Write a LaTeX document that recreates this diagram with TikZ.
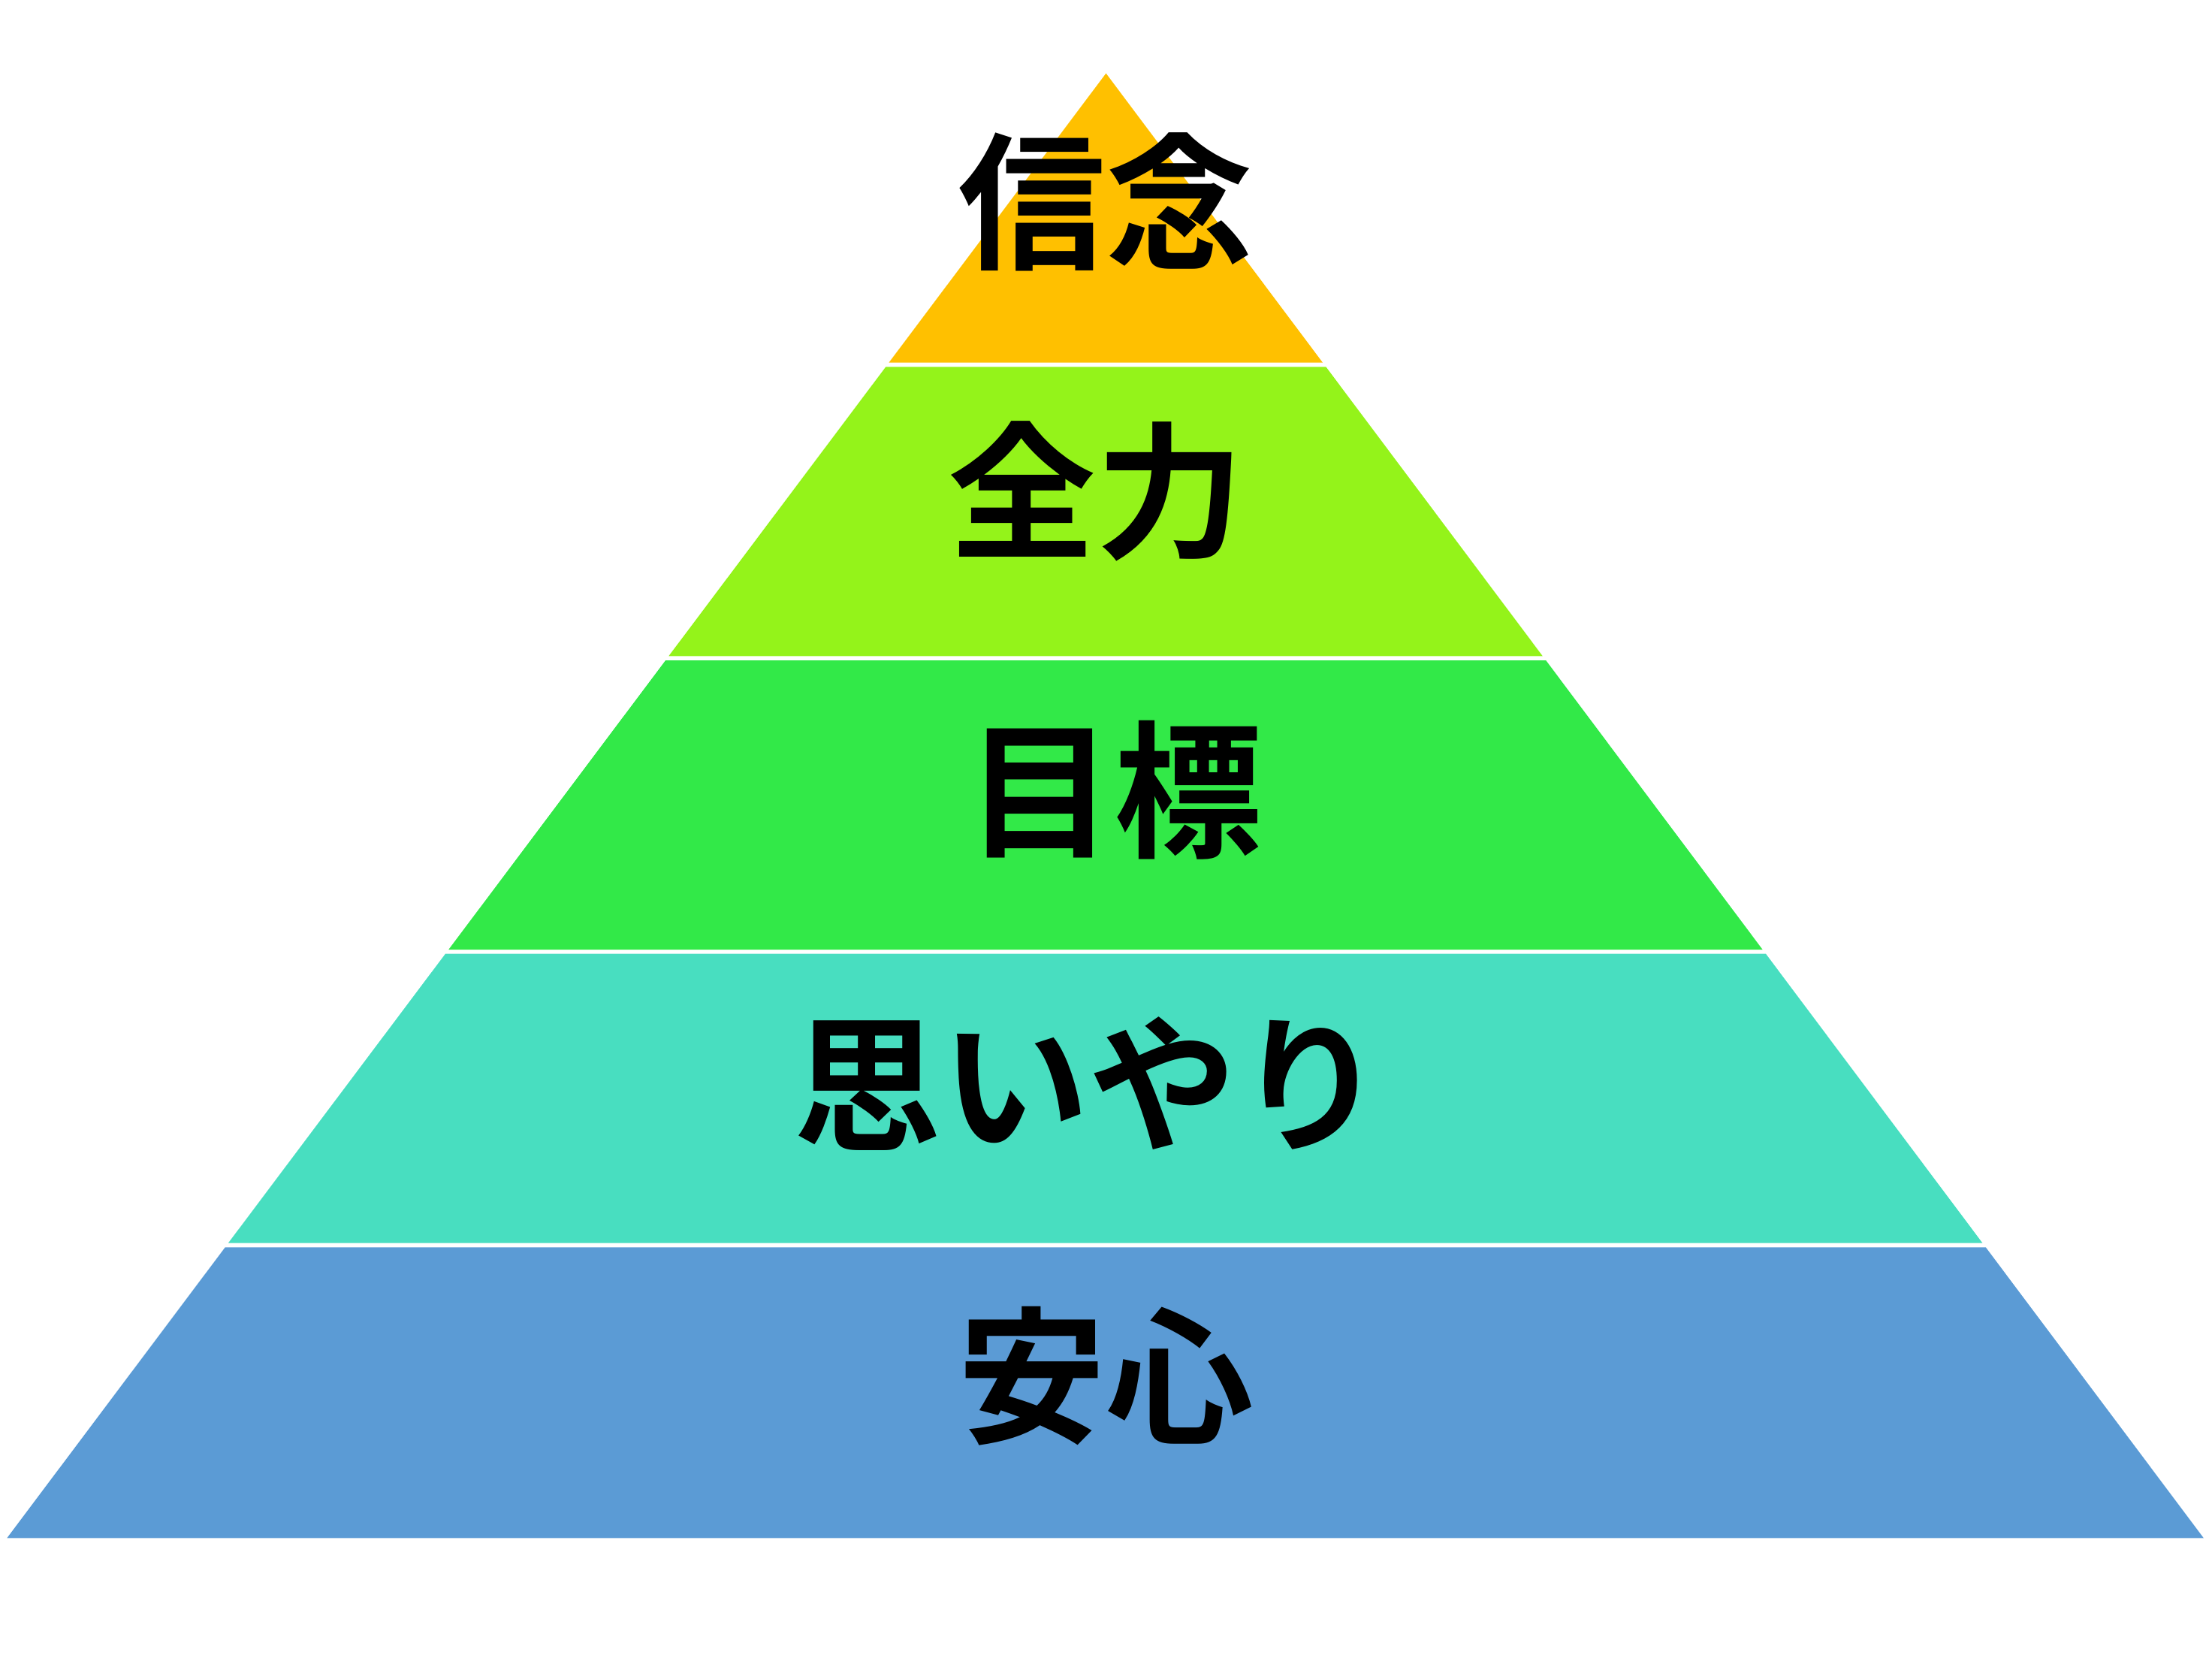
\documentclass[tikz,border=0pt]{standalone}
\usepackage{fontspec}
\newfontfamily\cjk{Noto Sans CJK JP Bold}
\definecolor{c1}{RGB}{255,192,0}
\definecolor{c2}{RGB}{148,243,26}
\definecolor{c3}{RGB}{50,233,72}
\definecolor{c4}{RGB}{72,222,192}
\definecolor{c5}{RGB}{91,155,213}
\begin{document}
\begin{tikzpicture}[x=0.01878cm,y=-0.01878cm,
  lbl/.style={font=\cjk\fontsize{56}{60}\selectfont,inner sep=0}]
\useasboundingbox (0,0) rectangle (1568,1175);
\fill[c1] (784,52) -- (937.6,257) -- (630.1,257) -- cycle;
\fill[c2] (627.9,260) -- (939.9,260) -- (1093.5,465) -- (474.0,465) -- cycle;
\fill[c3] (471.8,468) -- (1095.8,468) -- (1249.4,673) -- (318.0,673) -- cycle;
\fill[c4] (315.7,676) -- (1251.7,676) -- (1405.3,881) -- (161.8,881) -- cycle;
\fill[c5] (159.6,884) -- (1407.6,884) -- (1562,1090) -- (5,1090) -- cycle;
\node[lbl] (t1) at (784,143) {信念};
\node[lbl] (t2) at (777,348) {全力};
\node[lbl] (t3) at (790,560) {目標};
\node[lbl] (t4) at (772,768) {思いやり};
\node[lbl] (t5) at (784,975) {安心};
\end{tikzpicture}
\end{document}
